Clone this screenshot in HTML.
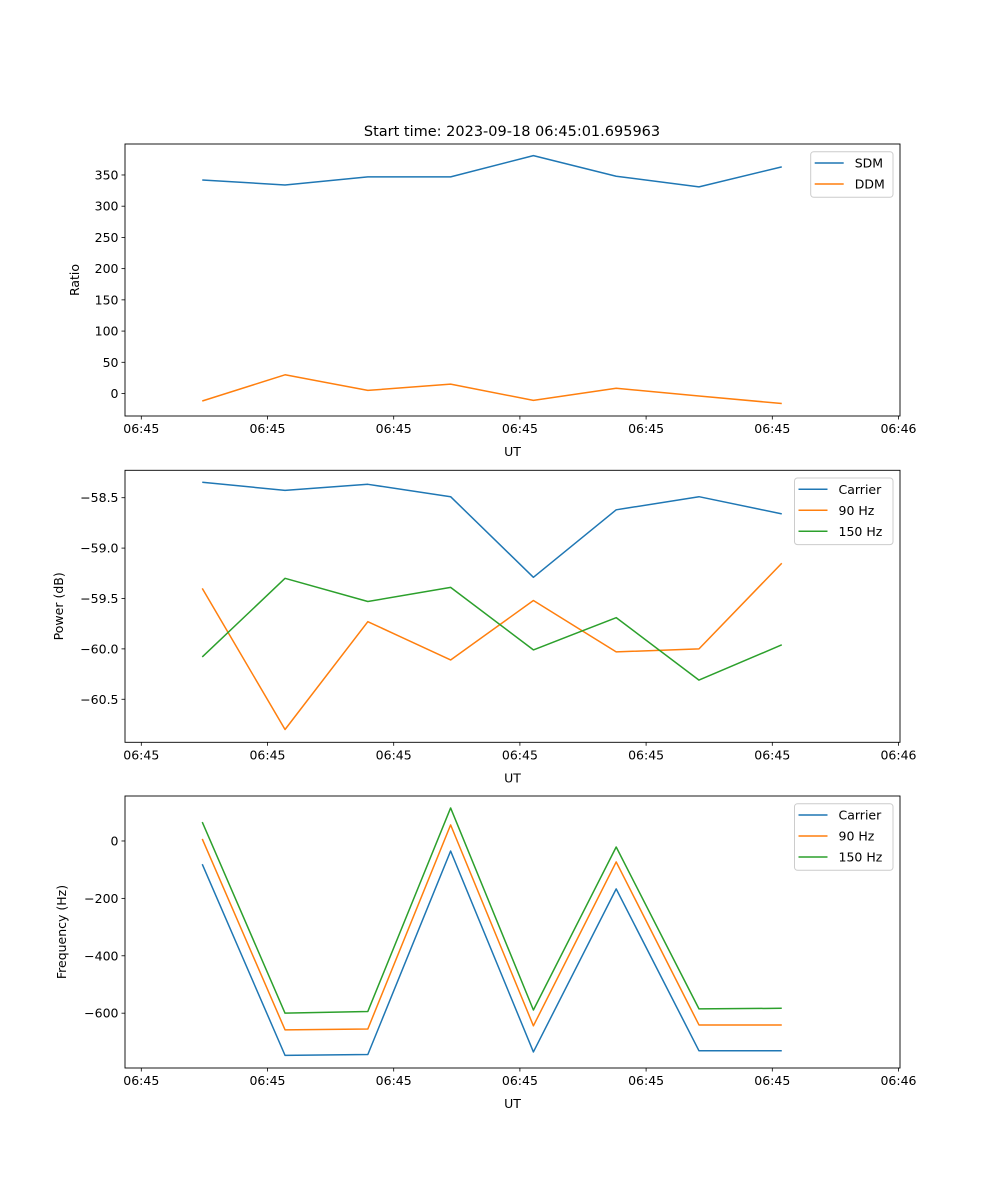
<!DOCTYPE html>
<html><head><meta charset="utf-8"><style>
html,body{margin:0;padding:0;background:#fff;}
svg{display:block;font-family:"DejaVu Sans","Liberation Sans",sans-serif;}
</style></head><body>
<svg id="fig" width="1000" height="1200" viewBox="0 0 1000 1200" xmlns="http://www.w3.org/2000/svg">
<rect width="1000" height="1200" fill="#fff"/>
<text x="512" y="136" font-size="14.5" text-anchor="middle" fill="#000">Start time: 2023-09-18 06:45:01.695963</text>
</svg>
<script>
const xTickLabels = ["06:45","06:45","06:45","06:45","06:45","06:45","06:46"];
const xTicks = [0,1,2,3,4,5,6];
const xs = [0.483,1.139,1.795,2.451,3.107,3.763,4.419,5.075];
const ratioTicks = [0,50,100,150,200,250,300,350];
const sdm = [342,334,347,347,381,348,331,363];
const ddm = [-12,30,5,15,-11,8.5,-4,-16];
const powTicks = [-60.5,-60.0,-59.5,-59.0,-58.5];
const powCarrier = [-58.347,-58.427,-58.367,-58.49,-59.29,-58.62,-58.49,-58.66];
const pow90 = [-59.40,-60.80,-59.73,-60.11,-59.52,-60.03,-60.00,-59.15];
const pow150 = [-60.08,-59.30,-59.53,-59.39,-60.01,-59.69,-60.31,-59.96];
const freqTicks = [-600,-400,-200,0];
const freqCarrier = [-81,-747,-744,-35,-735,-167,-731,-731];
const freq90 = [7,-658,-655,56,-644,-73,-641,-641];
const freq150 = [66,-600,-594,115,-589,-21,-585,-583];

const NS="http://www.w3.org/2000/svg";
const svg=document.getElementById('fig');
function mk(tag,attrs,parent){const e=document.createElementNS(NS,tag);for(const k in attrs)e.setAttribute(k,attrs[k]);(parent||svg).appendChild(e);return e;}
const L=125,R=900;
function xScale(v){return 141.3+v*126.2;}
const C1="#1f77b4",C2="#ff7f0e",C3="#2ca02c";

function panel(name,top,bottom,ymin,ymax,yticks,fmt,ylabel,ylabelX,series,legend){
  const g=mk('g',{});
  
  
  const ys=v=>bottom-(v-ymin)/(ymax-ymin)*(bottom-top);
  series.forEach(s=>{
    const pts=s.vals.map((v,i)=>xScale(xs[i]).toFixed(2)+','+ys(v).toFixed(2)).join(' ');
    const p=mk('polyline',{points:pts,fill:'none',stroke:s.color,'stroke-width':1.5,'stroke-linejoin':'round'},g);
    
    
  });
  const fr=mk('rect',{x:L,y:top,width:R-L,height:bottom-top,fill:'none',stroke:'#000','stroke-width':0.9},g);
  
  
  yticks.forEach(t=>{
    const y=ys(t);
    mk('line',{x1:L-3.5,x2:L,y1:y,y2:y,stroke:'#000','stroke-width':0.8},g);
    const tx=mk('text',{x:L-6.5,y:y+4.5,'font-size':12.5,'text-anchor':'end',fill:'#000'},g);
    tx.textContent=fmt(t);
    
    
  });
  xTicks.forEach((t,i)=>{
    const x=xScale(t);
    mk('line',{x1:x,x2:x,y1:bottom,y2:bottom+3.5,stroke:'#000','stroke-width':0.8},g);
    const tx=mk('text',{x:x,y:bottom+17,'font-size':12.5,'text-anchor':'middle',fill:'#000'},g);
    tx.textContent=xTickLabels[i];
    
    
  });
  const xl=mk('text',{x:512.5,y:bottom+40,'font-size':12.5,'text-anchor':'middle',fill:'#000'},g);
  xl.textContent='UT';
  
  
  const cy=(top+bottom)/2;
  const yl=mk('text',{x:ylabelX,y:cy,'font-size':12.5,'text-anchor':'middle',fill:'#000',transform:'rotate(-90 '+ylabelX+' '+cy+')'},g);
  yl.textContent=ylabel;
  
  
  // legend
  const lg=mk('g',{},g);
  
  
  mk('rect',{x:legend.x,y:top+7.7,width:R-7-legend.x,height:series.length*21+3.6,rx:3,fill:'#fff','fill-opacity':0.8,stroke:'#ccc','stroke-width':1},lg);
  series.forEach((s,i)=>{
    const y=top+19+i*21;
    mk('line',{x1:legend.x+4,x2:legend.x+33,y1:y,y2:y,stroke:s.color,'stroke-width':1.5},lg);
    const t=mk('text',{x:legend.x+44,y:y+4.5,'font-size':12.5,fill:'#000'},lg);
    t.textContent=s.label;
    
    
  });
}
panel('ratio',144,416,-36,399.6,ratioTicks,v=>String(v),'Ratio',79,
  [{key:'sdm',label:'SDM',vals:sdm,color:C1},{key:'ddm',label:'DDM',vals:ddm,color:C2}],{x:810.7});
panel('power',470.3,742.3,-60.927,-58.228,powTicks,v=>(v<0?'\u2212':'')+Math.abs(v).toFixed(1),'Power (dB)',63,
  [{key:'carrier',label:'Carrier',vals:powCarrier,color:C1},{key:'90hz',label:'90 Hz',vals:pow90,color:C2},{key:'150hz',label:'150 Hz',vals:pow150,color:C3}],{x:794.5});
panel('frequency',796,1068,-791,156.7,freqTicks,v=>(v<0?'\u2212':'')+Math.abs(v),'Frequency (Hz)',66,
  [{key:'carrier',label:'Carrier',vals:freqCarrier,color:C1},{key:'90hz',label:'90 Hz',vals:freq90,color:C2},{key:'150hz',label:'150 Hz',vals:freq150,color:C3}],{x:794.5});
</script>
</body></html>
